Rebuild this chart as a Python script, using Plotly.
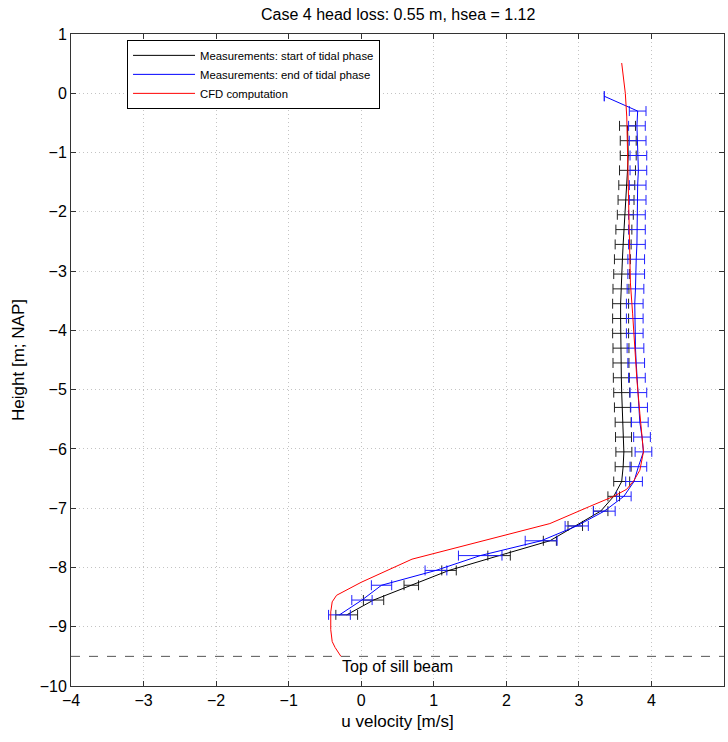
import plotly.graph_objects as go

# Velocity profiles over the sill (u in m/s, height in m NAP)
start_height = [-0.55, -0.80, -1.05, -1.30, -1.55, -1.80, -2.05, -2.30, -2.55, -2.80,
                -3.05, -3.30, -3.55, -3.80, -4.05, -4.30, -4.55, -4.80, -5.05, -5.30,
                -5.55, -5.80, -6.05, -6.30, -6.55, -6.80, -7.05, -7.30, -7.55, -7.80,
                -8.05, -8.30, -8.55, -8.80]
start_u = [3.67, 3.68, 3.68, 3.67, 3.66, 3.65, 3.64, 3.62, 3.61, 3.60,
           3.59, 3.58, 3.575, 3.575, 3.575, 3.58, 3.58, 3.585, 3.59, 3.60,
           3.61, 3.615, 3.62, 3.61, 3.59, 3.48, 3.30, 2.95, 2.60, 1.90,
           1.21, 0.69, 0.17, -0.20]
start_err = [0.11, 0.11, 0.11, 0.11, 0.11, 0.11, 0.11, 0.11, 0.11, 0.11,
             0.11, 0.11, 0.11, 0.11, 0.11, 0.11, 0.11, 0.11, 0.11, 0.11,
             0.11, 0.11, 0.11, 0.11, 0.11, 0.08, 0.10, 0.10, 0.09, 0.155,
             0.10, 0.10, 0.14, 0.15]

end_height = [-0.05, -0.30, -0.55, -0.80, -1.05, -1.30, -1.55, -1.80, -2.05, -2.30,
              -2.55, -2.80, -3.05, -3.30, -3.55, -3.80, -4.05, -4.30, -4.55, -4.80,
              -5.05, -5.30, -5.55, -5.80, -6.05, -6.30, -6.55, -6.80, -7.05, -7.30,
              -7.55, -7.80, -8.05, -8.30, -8.55, -8.80]
end_u = [3.35, 3.81, 3.80, 3.81, 3.82, 3.82, 3.81, 3.81, 3.80, 3.80,
         3.80, 3.79, 3.79, 3.78, 3.77, 3.77, 3.77, 3.78, 3.79, 3.80,
         3.82, 3.83, 3.84, 3.87, 3.89, 3.82, 3.76, 3.62, 3.35, 2.97,
         2.48, 1.64, 1.03, 0.28, 0.01, -0.30]
end_err = [0.0, 0.115, 0.115, 0.115, 0.115, 0.115, 0.115, 0.115, 0.115, 0.115,
           0.115, 0.115, 0.115, 0.115, 0.115, 0.115, 0.115, 0.115, 0.115, 0.115,
           0.115, 0.115, 0.115, 0.115, 0.115, 0.115, 0.115, 0.10, 0.15, 0.16,
           0.22, 0.30, 0.15, 0.14, 0.14, 0.15]

cfd_u = [3.59, 3.62, 3.64, 3.66, 3.67, 3.685, 3.69, 3.70, 3.71, 3.74,
         3.77, 3.80, 3.84, 3.87, 3.89, 3.84, 3.76, 3.66, 3.48, 3.15,
         2.60, 0.70, 0.00, -0.34, -0.40, -0.42, -0.42, -0.40, -0.36, -0.28]
cfd_height = [0.51, 0.25, 0.00, -0.40, -0.96, -1.52, -2.08, -2.64, -3.20, -3.71,
              -4.28, -4.84, -5.40, -5.85, -6.05, -6.36, -6.53, -6.68, -6.80, -6.97,
              -7.26, -7.86, -8.25, -8.47, -8.58, -8.75, -9.05, -9.25, -9.35, -9.50]

sill_level = -9.5
sill_label = "Top of sill beam"
sill_label_u = 0.5

x_ticks = [-4, -3, -2, -1, 0, 1, 2, 3, 4, 5]
y_ticks = [1, 0, -1, -2, -3, -4, -5, -6, -7, -8, -9, -10]

FONT = "Liberation Sans, Arial, sans-serif"

fig = go.Figure()

fig.add_trace(go.Scatter(
    x=[x_ticks[0], x_ticks[-1]], y=[sill_level, sill_level],
    mode="lines", line=dict(color="#555555", width=1, dash="dash"),
    showlegend=False, hoverinfo="skip"))

fig.add_trace(go.Scatter(
    x=start_u, y=start_height, mode="lines",
    name="Measurements: start of tidal phase",
    line=dict(color="black", width=1),
    error_x=dict(type="data", array=start_err, color="#222222",
                 thickness=1, width=5)))

fig.add_trace(go.Scatter(
    x=end_u, y=end_height, mode="lines",
    name="Measurements: end of tidal phase",
    line=dict(color="#0000ff", width=1),
    error_x=dict(type="data", array=end_err, color="#2020ff",
                 thickness=1, width=5)))

fig.add_trace(go.Scatter(
    x=cfd_u, y=cfd_height, mode="lines",
    name="CFD computation",
    line=dict(color="#ff0000", width=1)))

fig.add_annotation(x=sill_label_u, y=sill_level, xref="x", yref="y",
                   text=sill_label, showarrow=False, xanchor="center",
                   yanchor="top", yshift=0,
                   font=dict(family=FONT, size=16, color="black"))

axis_common = dict(
    showgrid=True, gridcolor="#c4c4c4", griddash="1px,3px", gridwidth=1,
    showline=True, linecolor="#333333", linewidth=1, mirror="allticks",
    ticks="inside", ticklen=5, tickcolor="#333333",
    zeroline=False, tickfont=dict(family=FONT, size=16, color="black"),
)

fig.update_xaxes(range=[x_ticks[0], x_ticks[-1]], tickvals=x_ticks,
                 title=dict(text="u velocity [m/s]", standoff=6,
                            font=dict(family=FONT, size=17, color="black")),
                 **axis_common)
fig.update_yaxes(range=[y_ticks[-1], y_ticks[0]], tickvals=y_ticks,
                 title=dict(text="Height [m; NAP]", standoff=10,
                            font=dict(family=FONT, size=17, color="black")),
                 **axis_common)

fig.update_layout(
    width=728, height=742,
    margin=dict(l=71, r=4, t=34, b=56),
    paper_bgcolor="white", plot_bgcolor="white",
    title=dict(text="Case 4 head loss: 0.55 m, hsea = 1.12", x=0.547,
               xanchor="center", y=0.981, yanchor="middle",
               font=dict(family=FONT, size=16, color="black")),
    legend=dict(x=0.0858, y=0.991, xanchor="left", yanchor="top",
                bgcolor="white", bordercolor="black", borderwidth=1,
                font=dict(family=FONT, size=11.3, color="black"),
                itemwidth=62, tracegroupgap=0),
    showlegend=True,
)

fig.write_html("out.html")
